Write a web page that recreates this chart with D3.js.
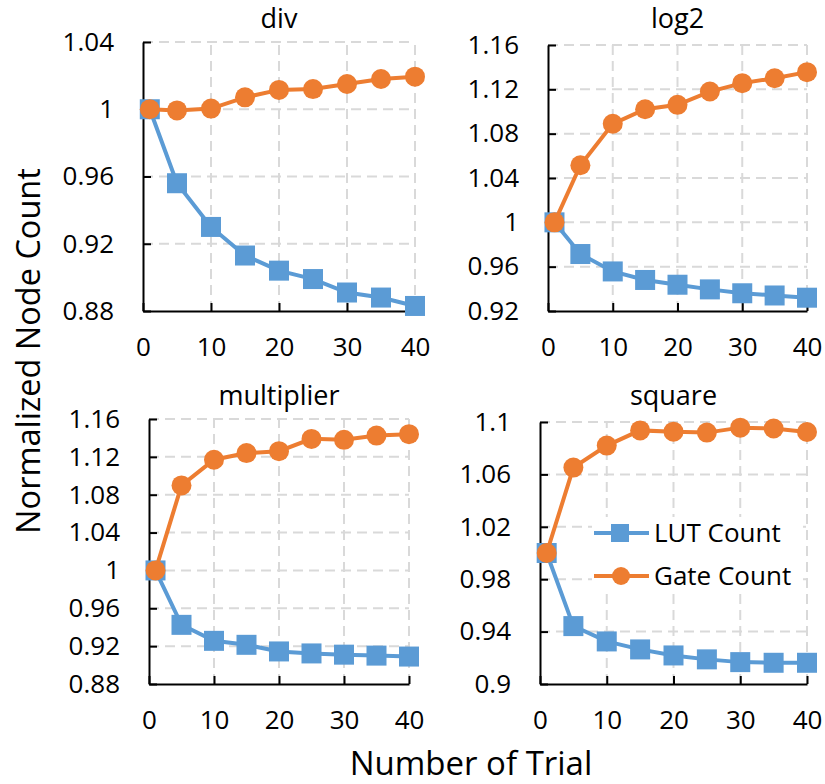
<!DOCTYPE html>
<html>
<head>
<meta charset="utf-8">
<script src="https://cdn.jsdelivr.net/npm/d3@7"></script>
<style>
  body { margin: 0; background: #fff; }
  text { font-family: "Open Sans", sans-serif; fill: #000; }
</style>
</head>
<body>
<div id="vis"></div>
<script>
// values
let trials = [1, 5, 10, 15, 20, 25, 30, 35, 40];
let xTicks = [0, 10, 20, 30, 40];

let divLut = [1, 0.956, 0.930, 0.913, 0.904, 0.899, 0.891, 0.888, 0.883];
let divGate = [1, 0.9993, 1.0004, 1.0071, 1.0115, 1.012, 1.015, 1.018, 1.0194];
let log2Lut = [1, 0.9714, 0.9557, 0.948, 0.9437, 0.9395, 0.936, 0.934, 0.932];
let log2Gate = [1, 1.0515, 1.0889, 1.102, 1.106, 1.118, 1.1256, 1.130, 1.1355];
let multLut = [1, 0.9425, 0.9256, 0.9214, 0.9144, 0.9123, 0.911, 0.910, 0.909];
let multGate = [1, 1.0898, 1.117, 1.124, 1.126, 1.139, 1.138, 1.1425, 1.144];
let squareLut = [1, 0.9442, 0.9325, 0.9264, 0.9218, 0.9188, 0.9167, 0.9162, 0.9162];
let squareGate = [1, 1.0652, 1.082, 1.0936, 1.0926, 1.0919, 1.0957, 1.095, 1.0924];

let divTicks = [0.88, 0.92, 0.96, 1, 1.04];
let log2Ticks = [0.92, 0.96, 1, 1.04, 1.08, 1.12, 1.16];
let multTicks = [0.88, 0.92, 0.96, 1, 1.04, 1.08, 1.12, 1.16];
let squareTicks = [0.9, 0.94, 0.98, 1.02, 1.06, 1.1];

let seriesNames = ['LUT Count', 'Gate Count'];
let colors = { lut: '#5B9BD5', gate: '#ED7D31' };

// panel boxes: left, right, top, bottom in px
let panels = [
  { title: 'div', lut: divLut, gate: divGate, ticks: divTicks, box: [143, 415, 42, 311], titleY: 28 },
  { title: 'log2', lut: log2Lut, gate: log2Gate, ticks: log2Ticks, box: [548, 807, 45, 311], titleY: 28 },
  { title: 'multiplier', lut: multLut, gate: multGate, ticks: multTicks, box: [149, 409, 419, 684], titleY: 405 },
  { title: 'square', lut: squareLut, gate: squareGate, ticks: squareTicks, box: [540, 807, 422, 684], titleY: 405 }
];

let W = 825, H = 784;
let svg = d3.select('#vis').append('svg')
  .attr('width', W)
  .attr('height', H);

let fmt = v => String(+v.toFixed(2));

panels.forEach(p => {
  let [l, r, t, b] = p.box;
  let x = d3.scaleLinear().domain([0, 40]).range([l, r]);
  let y = d3.scaleLinear().domain(d3.extent(p.ticks)).range([b, t]);
  let g = svg.append('g');

  // grid
  g.selectAll('.hgrid').data(p.ticks.slice(1)).enter().append('line')
    .attr('x1', l).attr('x2', r)
    .attr('y1', d => y(d)).attr('y2', d => y(d))
    .attr('stroke', '#d9d9d9').attr('stroke-width', 2).attr('stroke-dasharray', '10,6');
  g.selectAll('.vgrid').data(xTicks.slice(1)).enter().append('line')
    .attr('y1', b).attr('y2', t)
    .attr('x1', d => x(d)).attr('x2', d => x(d))
    .attr('stroke', '#d9d9d9').attr('stroke-width', 2).attr('stroke-dasharray', '10,6');

  // axes
  let xa = g.append('g').attr('transform', `translate(0,${b})`)
    .call(d3.axisBottom(x).tickValues(xTicks).tickSizeInner(-8).tickSizeOuter(0).tickPadding(27));
  let ya = g.append('g').attr('transform', `translate(${l},0)`)
    .call(d3.axisLeft(y).tickValues(p.ticks).tickFormat(fmt).tickSizeInner(-8).tickSizeOuter(0).tickPadding(29));
  [xa, ya].forEach(a => {
    a.select('.domain').attr('stroke', '#000').attr('stroke-width', 2);
    a.selectAll('.tick line').attr('stroke', '#000').attr('stroke-width', 2);
    a.selectAll('.tick text').style('font-size', '26px').style('font-family', '"Open Sans", sans-serif').attr('fill', '#000');
  });

  // title
  g.append('text')
    .attr('x', (l + r) / 2).attr('y', p.titleY)
    .attr('text-anchor', 'middle')
    .style('font-size', '27px')
    .text(p.title);

  let line = d3.line().x((d, i) => x(trials[i])).y(d => y(d));

  // LUT series
  g.append('path').datum(p.lut).attr('d', line)
    .attr('fill', 'none').attr('stroke', colors.lut).attr('stroke-width', 4);
  g.selectAll('.sq').data(p.lut).enter().append('rect')
    .attr('x', (d, i) => x(trials[i]) - 10).attr('y', d => y(d) - 10)
    .attr('width', 20).attr('height', 20)
    .attr('fill', colors.lut);

  // Gate series
  g.append('path').datum(p.gate).attr('d', line)
    .attr('fill', 'none').attr('stroke', colors.gate).attr('stroke-width', 4);
  g.selectAll('.ci').data(p.gate).enter().append('circle')
    .attr('cx', (d, i) => x(trials[i])).attr('cy', d => y(d))
    .attr('r', 10)
    .attr('fill', colors.gate);
});

// legend inside the square panel
let lg = svg.append('g').attr('transform', 'translate(592,517)');
lg.append('rect').attr('width', 211).attr('height', 73).attr('fill', '#fff');
seriesNames.forEach((name, i) => {
  let cy = 16 + i * 43;
  let c = i === 0 ? colors.lut : colors.gate;
  lg.append('line').attr('x1', 2).attr('x2', 57).attr('y1', cy).attr('y2', cy)
    .attr('stroke', c).attr('stroke-width', 4);
  if (i === 0) {
    lg.append('rect').attr('x', 19).attr('y', cy - 9).attr('width', 18).attr('height', 18).attr('fill', c);
  } else {
    lg.append('circle').attr('cx', 29).attr('cy', cy).attr('r', 9).attr('fill', c);
  }
  lg.append('text').attr('x', 62).attr('y', cy).attr('dy', '0.35em')
    .style('font-size', '26px').text(name);
});

// shared axis titles
svg.append('text')
  .attr('transform', 'translate(40,351) rotate(-90)')
  .attr('text-anchor', 'middle')
  .style('font-size', '32.5px')
  .text('Normalized Node Count');
svg.append('text')
  .attr('x', 471).attr('y', 775)
  .attr('text-anchor', 'middle')
  .style('font-size', '33px')
  .text('Number of Trial');
</script>
</body>
</html>
